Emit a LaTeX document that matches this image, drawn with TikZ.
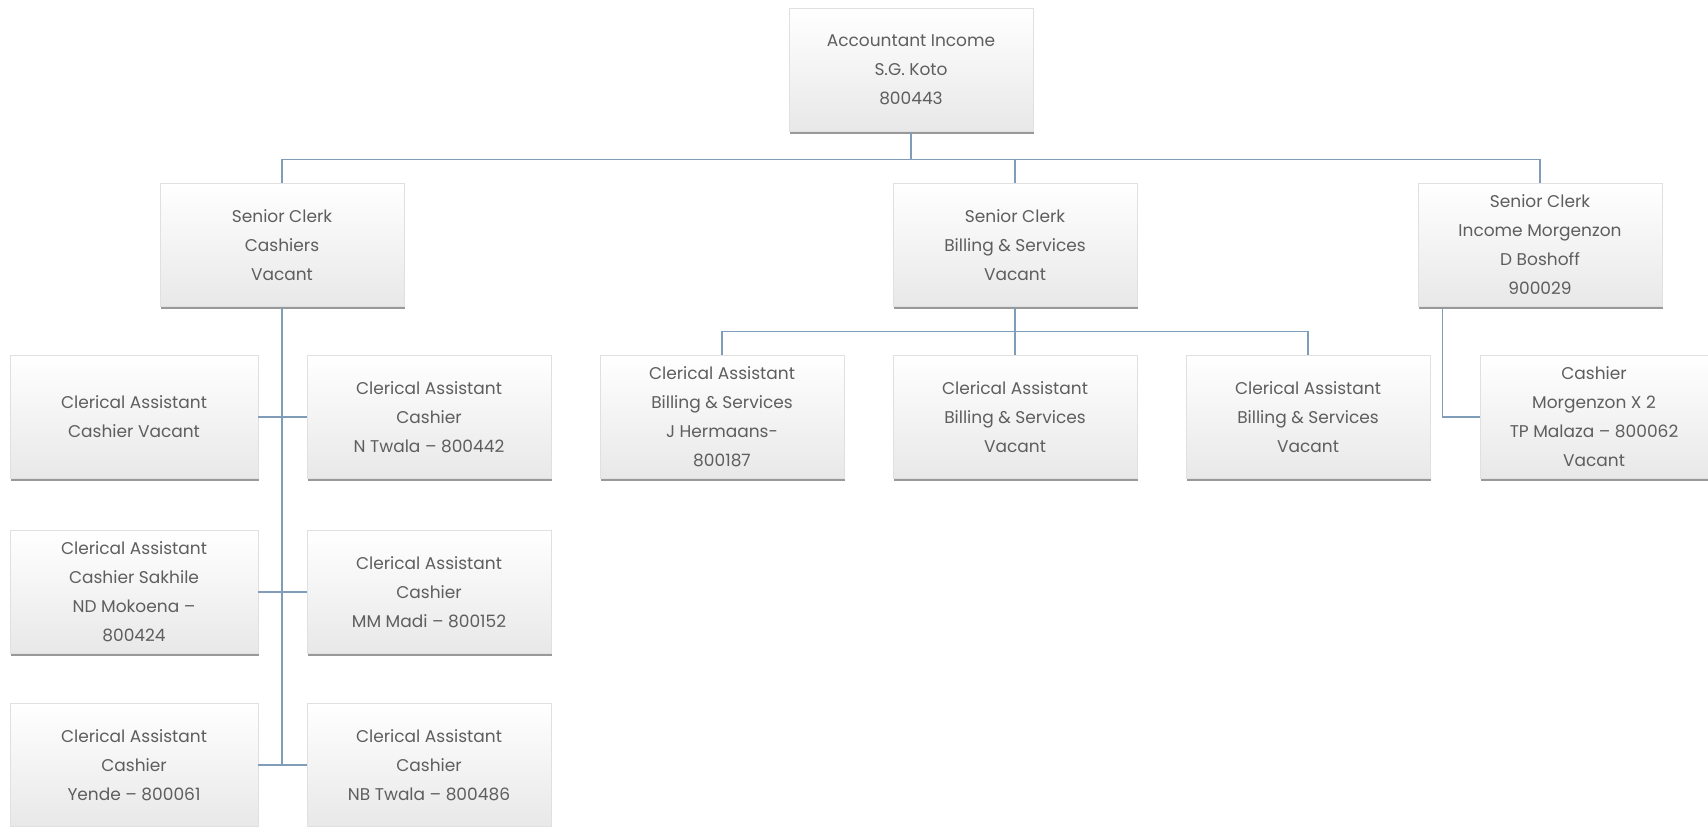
\documentclass[tikz,border=0pt]{standalone}
\usepackage{fontspec}
\setmainfont{Poppins}
\usetikzlibrary{shadows}
\definecolor{linkblue}{HTML}{7F9DB9}
\definecolor{txtgray}{HTML}{5E5E5E}
\begin{document}
\begin{tikzpicture}[x=1pt,y=-1pt,
  post/.style={rectangle, draw=black!12, line width=0.6pt,
    top color=white, middle color=white, bottom color=black!9,
    drop shadow={shadow xshift=0.6pt, shadow yshift=-2.5pt, fill=black, opacity=0.4},
    align=center, text=txtgray, font=\fontsize{17}{29}\selectfont,
    minimum width=244pt, minimum height=123pt, inner sep=0pt},
  wide/.style={minimum width=248pt},
  link/.style={draw=linkblue, line width=1.2pt}]
\useasboundingbox (0,0) rectangle (1708,827);

% head
\node[post] (acc) at (911,70) {Accountant Income\\S.G. Koto\\800443};

% senior clerks
\node[post] (sc1) at (282,245) {Senior Clerk\\Cashiers\\Vacant};
\node[post] (sc2) at (1015,245) {Senior Clerk\\Billing \& Services\\Vacant};
\node[post] (sc3) at (1540,245) {Senior Clerk\\Income Morgenzon\\D Boshoff\\900029};

% cashiers section
\node[post,wide] (ca1) at (134,417) {Clerical Assistant\\Cashier Vacant};
\node[post] (ca2) at (429,417) {Clerical Assistant\\Cashier\\N Twala – 800442};
\node[post,wide] (ca3) at (134,592) {Clerical Assistant\\Cashier Sakhile\\ND Mokoena –\\800424};
\node[post] (ca4) at (429,592) {Clerical Assistant\\Cashier\\MM Madi – 800152};
\node[post,wide] (ca5) at (134,765) {Clerical Assistant\\Cashier\\Yende  – 800061};
\node[post] (ca6) at (429,765) {Clerical Assistant\\Cashier\\NB Twala –  800486};

% billing section
\node[post] (bc1) at (722,417) {Clerical Assistant\\Billing \& Services\\J Hermaans-\\800187};
\node[post] (bc2) at (1015,417) {Clerical Assistant\\Billing \& Services\\Vacant};
\node[post] (bc3) at (1308,417) {Clerical Assistant\\Billing \& Services\\Vacant};

% Morgenzon section
\node[post, minimum width=228pt] (mc) at (1594,417) {Cashier\\Morgenzon X 2\\TP Malaza – 800062\\Vacant};

% connectors
\coordinate (bus) at (911,159);
\draw[link] (acc.south) -- (bus);
\draw[link] (sc1.north) -- ++(0,-24) -| (sc3.north);
\draw[link] (sc2.north) -- ++(0,-24);

\draw[link] (sc1.south) -- (sc1.south |- ca5.east);
\draw[link] (ca1.east) -- (ca2.west);
\draw[link] (ca3.east) -- (ca4.west);
\draw[link] (ca5.east) -- (ca6.west);

\draw[link] (sc2.south) -- (bc2.north);
\draw[link] (bc1.north) -- ++(0,-24) -| (bc3.north);

\draw[link] ([xshift=25pt]sc3.south west) |- (mc.west);
\end{tikzpicture}
\end{document}
